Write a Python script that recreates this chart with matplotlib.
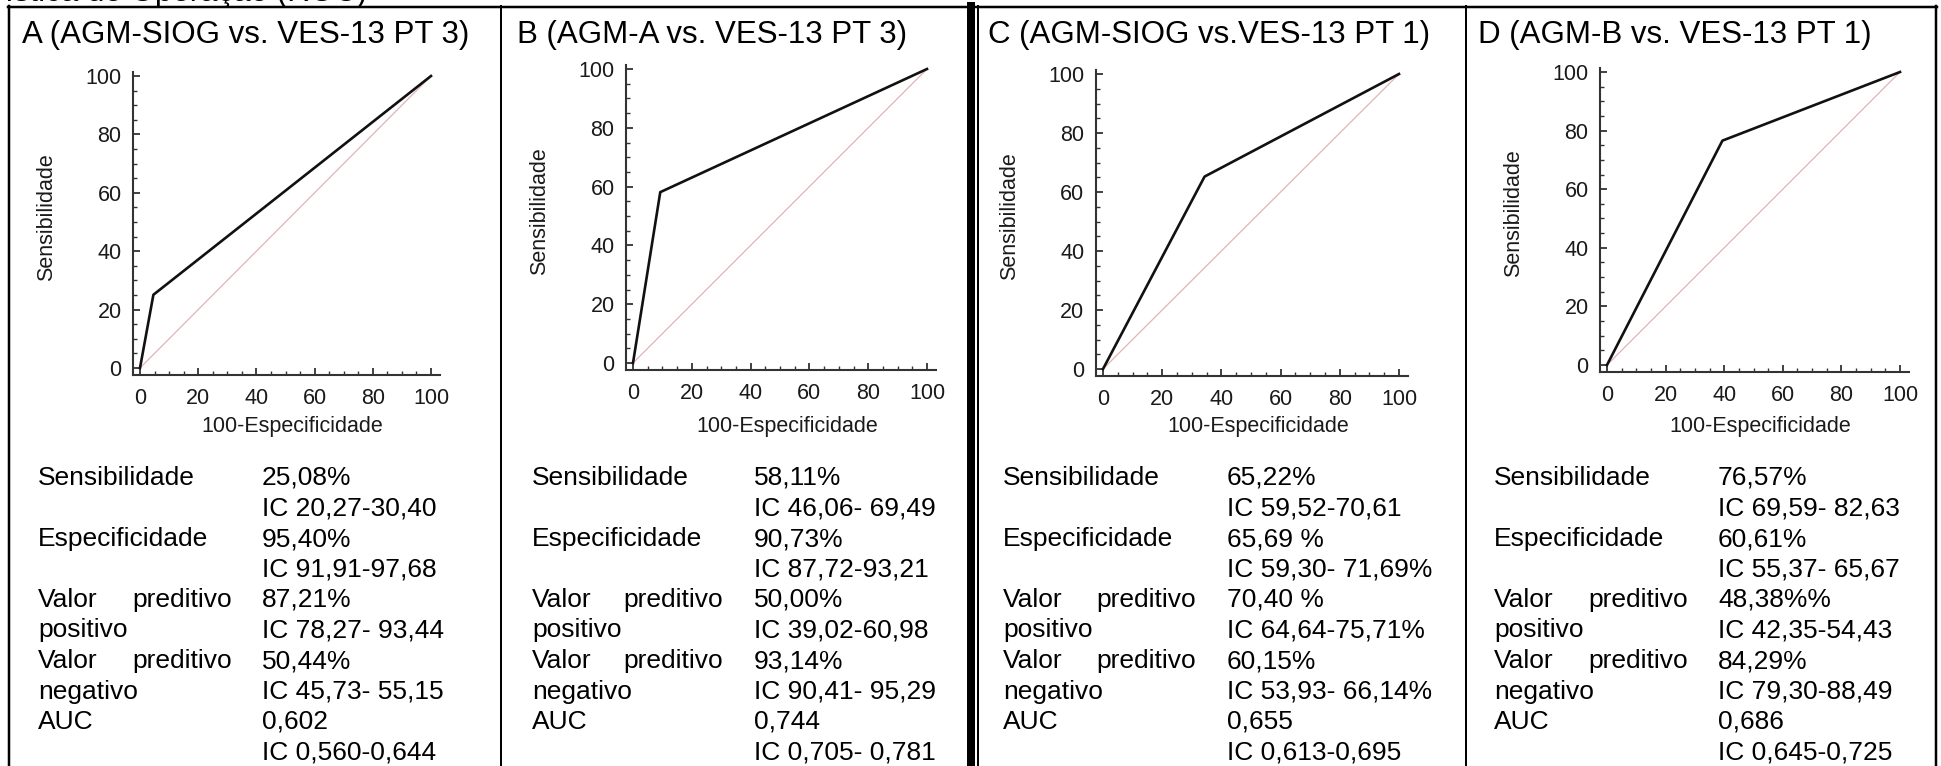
import matplotlib.pyplot as plt
from matplotlib.lines import Line2D
from matplotlib.ticker import MultipleLocator

plt.rcParams['font.family'] = ['Liberation Sans', 'DejaVu Sans']

W, H = 1941, 766

# dados
titulos = ['A (AGM-SIOG vs. VES-13 PT 3)', 'B (AGM-A vs. VES-13 PT 3)',
           'C (AGM-SIOG vs.VES-13 PT 1)', 'D (AGM-B vs. VES-13 PT 1)']

fpr_a = [0, 4.60, 100]
tpr_a = [0, 25.08, 100]
fpr_b = [0, 9.27, 100]
tpr_b = [0, 58.11, 100]
fpr_c = [0, 34.31, 100]
tpr_c = [0, 65.22, 100]
fpr_d = [0, 39.39, 100]
tpr_d = [0, 76.57, 100]

rotulos = ['Sensibilidade', '', 'Especificidade', '', 'Valor preditivo',
           'positivo', 'Valor preditivo', 'negativo', 'AUC', '']

valores_a = ['25,08%', 'IC 20,27-30,40', '95,40%', 'IC 91,91-97,68', '87,21%',
             'IC 78,27- 93,44', '50,44%', 'IC 45,73- 55,15', '0,602', 'IC 0,560-0,644']
valores_b = ['58,11%', 'IC 46,06- 69,49', '90,73%', 'IC 87,72-93,21', '50,00%',
             'IC 39,02-60,98', '93,14%', 'IC 90,41- 95,29', '0,744', 'IC 0,705- 0,781']
valores_c = ['65,22%', 'IC 59,52-70,61', '65,69 %', 'IC 59,30- 71,69%', '70,40 %',
             'IC 64,64-75,71%', '60,15%', 'IC 53,93- 66,14%', '0,655', 'IC 0,613-0,695']
valores_d = ['76,57%', 'IC 69,59- 82,63', '60,61%', 'IC 55,37- 65,67', '48,38%%',
             'IC 42,35-54,43', '84,29%', 'IC 79,30-88,49', '0,686', 'IC 0,645-0,725']

fprs = [fpr_a, fpr_b, fpr_c, fpr_d]
tprs = [tpr_a, tpr_b, tpr_c, tpr_d]
valores = [valores_a, valores_b, valores_c, valores_d]

# layout em pixels: (x de 0, x de 100, y de 0, y de 100)
eixos_px = [(140, 431, 368, 76), (633, 927, 363, 69),
            (1103, 1399, 369, 74), (1607, 1900, 365, 72)]
titulo_x = [22, 517, 988, 1478]
rotulo_x = [38, 532, 1003, 1494]
valor_x = [262, 754, 1227, 1718]
preditivo_fim = [232, 723, 1196, 1688]

XLIM = (-2.5, 103)
YLIM = (-2.5, 101.5)


def fx(x):
    return x / W


def fy(y):
    return 1 - y / H


fig = plt.figure(figsize=(W / 100, H / 100), dpi=100)

for i in range(4):
    x0, x100, y0, y100 = eixos_px[i]
    sx = (x100 - x0) / 100
    sy = (y0 - y100) / 100
    esq = x0 + XLIM[0] * sx
    dir_ = x0 + XLIM[1] * sx
    base = y0 - YLIM[0] * sy
    topo = y0 - YLIM[1] * sy
    ax = fig.add_axes([fx(esq), fy(base), (dir_ - esq) / W, (base - topo) / H])

    ax.plot([0, 100], [0, 100], color='#e2b4b4', lw=0.9)
    ax.plot(fprs[i], tprs[i], color='#111111', lw=1.9)
    ax.set_xlim(*XLIM)
    ax.set_ylim(*YLIM)

    for s in ['top', 'right']:
        ax.spines[s].set_visible(False)
    for s in ['left', 'bottom']:
        ax.spines[s].set_linewidth(1.5)
        ax.spines[s].set_color('#333333')

    ax.set_xticks(range(0, 101, 20))
    ax.set_yticks(range(0, 101, 20))
    ax.xaxis.set_minor_locator(MultipleLocator(5))
    ax.yaxis.set_minor_locator(MultipleLocator(5))
    ax.tick_params(which='both', direction='in', colors='#333333',
                   labelcolor='#1a1a1a', labelsize=15.5)
    ax.tick_params(which='major', length=5, width=1.3)
    ax.tick_params(which='minor', length=3, width=1.0)
    ax.tick_params(axis='x', pad=9)
    ax.tick_params(axis='y', pad=8)

    ax.set_xlabel('100-Especificidade', fontsize=15.5, color='#1a1a1a')
    ax.xaxis.set_label_coords(fx((x0 + x100) / 2 + 7), fy(427), transform=fig.transFigure)
    ax.xaxis.label.set_va('center')
    ax.set_ylabel('Sensibilidade', fontsize=15.5, color='#1a1a1a')
    ax.yaxis.set_label_coords(fx(x0 - 93), fy((y0 + y100) / 2 - 5), transform=fig.transFigure)
    ax.yaxis.label.set_va('center')

    # titulo do painel
    fig.text(fx(titulo_x[i]), fy(43), titulos[i], fontsize=22.5, va='baseline', ha='left')

    # tabela de resultados
    for r in range(10):
        yb = fy(485 + 30.5 * r)
        rot = rotulos[r]
        if rot.startswith('Valor'):
            fig.text(fx(rotulo_x[i]), yb, 'Valor', fontsize=19, va='baseline')
            fig.text(fx(preditivo_fim[i]), yb, 'preditivo', fontsize=19,
                     va='baseline', ha='right')
        elif rot:
            fig.text(fx(rotulo_x[i]), yb, rot, fontsize=19, va='baseline')
        fig.text(fx(valor_x[i]), yb, valores[i][r], fontsize=19, va='baseline')

# texto cortado acima da tabela (como na figura original)
fig.text(fx(367), fy(0.5), 'Curva Característica de Operação (ROC)', fontsize=22.5,
         ha='right', va='baseline')

# bordas da tabela
linhas = [
    ([8, 1937], [7, 7], 2.5),
    ([8.5, 8.5], [6, 766], 2.5),
    ([501, 501], [6, 766], 2.0),
    ([971, 971], [6, 766], 8.0),
    ([977.5, 977.5], [6, 766], 2.0),
    ([1465.5, 1465.5], [6, 766], 2.0),
    ([1936, 1936], [6, 766], 2.5),
]
for xs, ys, lw in linhas:
    fig.add_artist(Line2D([fx(v) for v in xs], [fy(v) for v in ys],
                          transform=fig.transFigure, color='black', lw=lw * 0.72))

fig.savefig('out.png', dpi=100)
